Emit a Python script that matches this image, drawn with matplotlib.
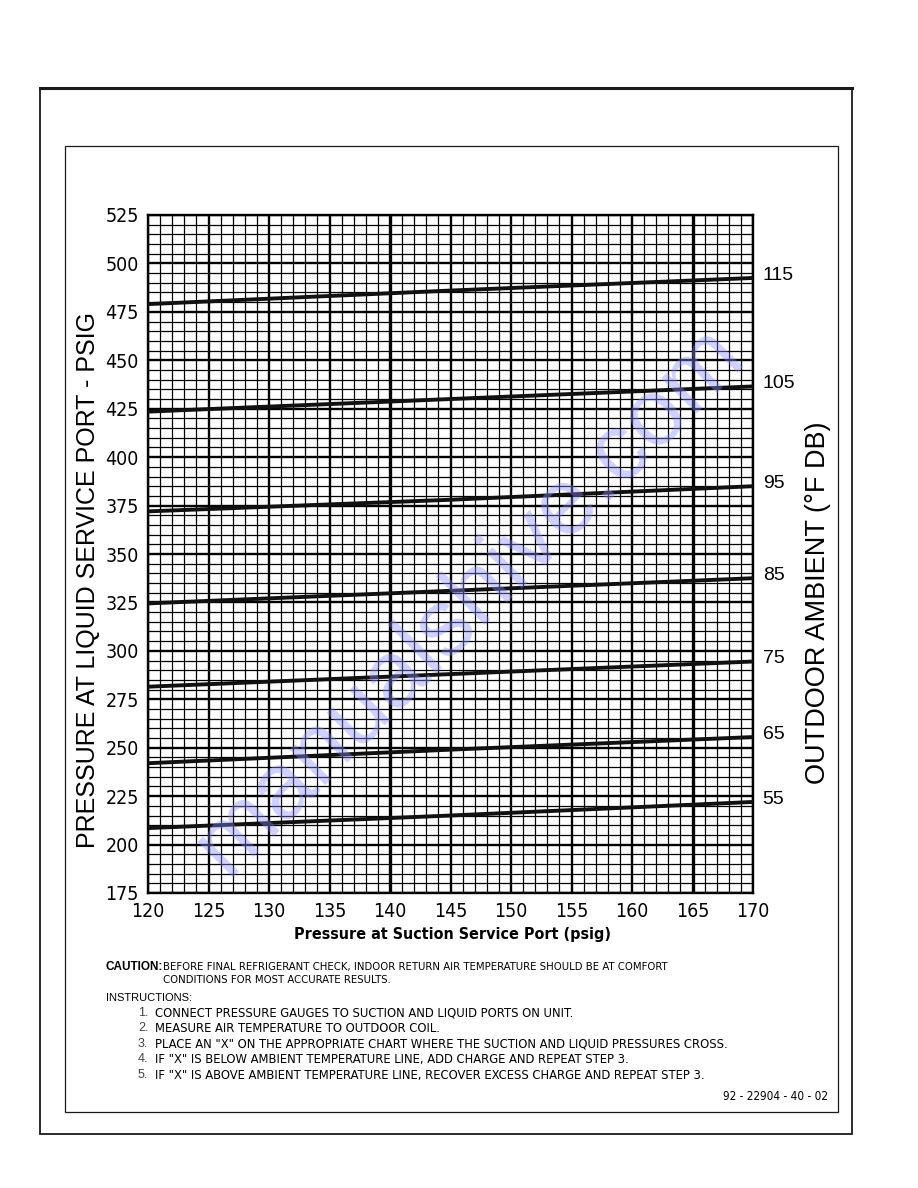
import numpy as np
import matplotlib.pyplot as plt
from matplotlib.patches import Rectangle

# 데이터
suction = [120, 145, 170]  # psig
ambient = [115, 105, 95, 85, 75, 65, 55]  # 외기온도 (°F DB)
liquid_115 = [479, 486, 492.5]
liquid_105 = [423.5, 430, 436.5]
liquid_95 = [372, 378, 385]
liquid_85 = [324.5, 331, 337.5]
liquid_75 = [281.5, 288, 294.5]
liquid_65 = [242, 249, 255.5]
liquid_55 = [208.5, 215, 222]
liquid_lines = [liquid_115, liquid_105, liquid_95, liquid_85, liquid_75, liquid_65, liquid_55]

x_ticks = np.arange(120, 171, 5)
y_ticks = np.arange(175, 526, 25)

narrow = ['Liberation Sans Narrow', 'DejaVu Sans']
plain = ['Liberation Sans', 'DejaVu Sans']

fig = plt.figure(figsize=(9.18, 11.88), dpi=100)

# 바깥 테두리
fig.patches.append(Rectangle((40/918, 1-1134/1188), 812/918, 1046/1188, transform=fig.transFigure,
                             fill=False, lw=1.3, ec='#1a1a1a'))
fig.add_artist(plt.Line2D([40/918, 852/918], [1-88/1188, 1-88/1188], transform=fig.transFigure,
                          lw=2.2, color='#1a1a1a'))
fig.patches.append(Rectangle((65/918, 1-1112/1188), 773/918, 966/1188, transform=fig.transFigure,
                             fill=False, lw=0.9, ec='#1a1a1a'))

ax = fig.add_axes([148/918, 1-893/1188, 605/918, 678/1188])
ax.set_xlim(120, 170)
ax.set_ylim(175, 525)

# 격자
for xv in np.arange(120, 171, 1):
    if xv in (140, 165):
        lw = 2.4
    elif xv % 5 == 0:
        lw = 1.7
    else:
        lw = 0.9
    ax.axvline(xv, color='black', lw=lw, zorder=1)
for yv in np.arange(175, 526, 5):
    lw = 1.7 if yv % 25 == 0 else 0.9
    ax.axhline(yv, color='black', lw=lw, zorder=1)

# 외기온도 라인
for temp, vals in zip(ambient, liquid_lines):
    ax.plot(suction, vals, color='#111111', lw=2.8, solid_capstyle='butt', zorder=3)
    ax.annotate(str(temp), xy=(suction[-1], vals[-1]), xytext=(7, 2), textcoords='offset points',
                ha='left', va='center', fontsize=14, family=plain, annotation_clip=False)

for s in ax.spines.values():
    s.set_linewidth(1.7)
ax.set_xticks(x_ticks)
ax.set_yticks(y_ticks)
ax.tick_params(length=0, pad=6.5)
for lab in ax.get_xticklabels() + ax.get_yticklabels():
    lab.set_family(narrow)
    lab.set_stretch('condensed')
    lab.set_fontsize(14)

# 축 제목
fig.text(88/918, 1-580/1188, 'PRESSURE AT LIQUID SERVICE PORT - PSIG', rotation=90,
         ha='center', va='center', fontsize=18, family=plain)
fig.text(818/918, 1-603/1188, 'OUTDOOR AMBIENT (°F DB)', rotation=90,
         ha='center', va='center', fontsize=19.5, family=plain)
fig.text(453/918, 1-935/1188, 'Pressure at Suction Service Port (psig)',
         ha='center', va='center', fontsize=11.5, family=narrow, stretch='condensed', weight='bold')

# 워터마크
fig.text(470/918, 1-600/1188, 'manualshive.com', rotation=45, ha='center', va='center',
         fontsize=68, family=plain, color=(0.55, 0.55, 1.0), alpha=0.4, zorder=10)

# 주의사항 / 설명
fig.text(105/918, 1-967/1188, 'CAUTION:', fontsize=8.5, family=plain, weight='bold', va='center')
fig.text(163/918, 1-967/1188, 'BEFORE FINAL REFRIGERANT CHECK, INDOOR RETURN AIR TEMPERATURE SHOULD BE AT COMFORT',
         fontsize=8.1, family=narrow, stretch='condensed', va='center')
fig.text(163/918, 1-980/1188, 'CONDITIONS FOR MOST ACCURATE RESULTS.', fontsize=8.1, family=narrow,
         stretch='condensed', va='center')
fig.text(106/918, 1-998/1188, 'INSTRUCTIONS:', fontsize=8, family=plain, va='center')

steps = ['CONNECT PRESSURE GAUGES TO SUCTION AND LIQUID PORTS ON UNIT.',
         'MEASURE AIR TEMPERATURE TO OUTDOOR COIL.',
         'PLACE AN "X" ON THE APPROPRIATE CHART WHERE THE SUCTION AND LIQUID PRESSURES CROSS.',
         'IF "X" IS BELOW AMBIENT TEMPERATURE LINE, ADD CHARGE AND REPEAT STEP 3.',
         'IF "X" IS ABOVE AMBIENT TEMPERATURE LINE, RECOVER EXCESS CHARGE AND REPEAT STEP 3.']
step_y = [1013, 1028, 1044, 1059, 1075]
for i, (txt, yy) in enumerate(zip(steps, step_y)):
    fig.text(138/918, 1-yy/1188, f'{i+1}.', fontsize=9, family=plain, color='#444444', va='center')
    fig.text(155/918, 1-yy/1188, txt, fontsize=9.3, family=narrow, stretch='condensed', va='center')

fig.text(828/918, 1-1097/1188, '92 - 22904 - 40 - 02', fontsize=8.5, family=narrow,
         stretch='condensed', ha='right', va='center')

plt.savefig('out.png', dpi=100)
